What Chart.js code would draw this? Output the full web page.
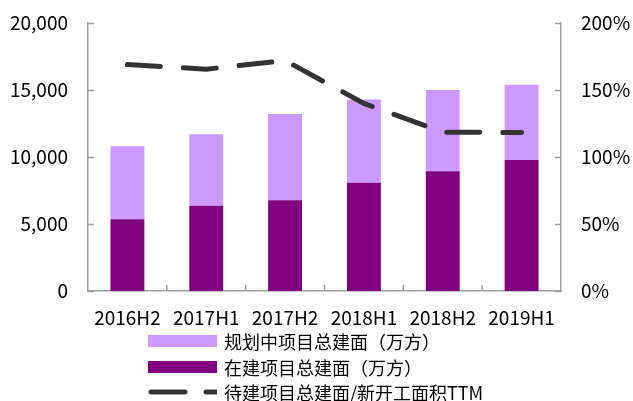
<!DOCTYPE html>
<html>
<head>
<meta charset="utf-8">
<script src="https://cdn.jsdelivr.net/npm/chart.js@4.4.0/dist/chart.umd.min.js"></script>
<style>
  body { margin: 0; background: #fff; }
  #wrap { position: relative; width: 633px; height: 401px; font-family: "Noto Sans CJK SC", sans-serif; }
  #legend { position: absolute; left: 148px; top: 329px; }
  .item { position: absolute; left: 0; height: 24px; white-space: nowrap; font-size: 18px; line-height: 24px; color: #000; }
  .item .sw { position: absolute; left: 0; top: 6px; width: 69px; height: 12px; }
  .item span { position: absolute; left: 76px; top: 0; }
</style>
</head>
<body>
<div id="wrap">
  <canvas id="chart" width="633" height="401"></canvas>
  <div id="legend"></div>
</div>
<script>
// Data
const periods = ["2016H2", "2017H1", "2017H2", "2018H1", "2018H2", "2019H1"];
const underConstruction = [5350, 6370, 6770, 8080, 8930, 9780]; // 在建项目总建面（万方）
const planned = [5450, 5330, 6430, 6220, 6070, 5620]; // 规划中项目总建面（万方）
const pendingRatio = [169, 165.5, 172, 140, 118.5, 118.3]; // 待建/新开工面积TTM (%)
const leftTicks = [0, 5000, 10000, 15000, 20000];

const seriesNames = ["规划中项目总建面（万方）", "在建项目总建面（万方）", "待建项目总建面/新开工面积TTM"];
const lightPurple = "#cc99ff";
const darkPurple = "#800080";
const lineColor = "#333333";
const axisColor = "#a0a0a0";

// inward tick marks, like the original
const innerTicks = {
  id: "innerTicks",
  afterDatasetsDraw(chart) {
    const ctx = chart.ctx;
    const area = chart.chartArea;
    const x = chart.scales.x, y = chart.scales.y, y1 = chart.scales.y1;
    ctx.save();
    ctx.strokeStyle = axisColor;
    ctx.lineWidth = 1.5;
    ctx.beginPath();
    y.ticks.forEach((t) => {
      const py = Math.round(y.getPixelForValue(t.value)) + 0.5;
      ctx.moveTo(area.left, py);
      ctx.lineTo(area.left + 6, py);
    });
    y1.ticks.forEach((t) => {
      const py = Math.round(y1.getPixelForValue(t.value)) + 0.5;
      ctx.moveTo(area.right - 6, py);
      ctx.lineTo(area.right, py);
    });
    for (let i = 1; i < periods.length; i++) {
      const px = (x.getPixelForValue(i - 1) + x.getPixelForValue(i)) / 2;
      ctx.moveTo(px, area.bottom);
      ctx.lineTo(px, area.bottom - 6);
    }
    ctx.stroke();
    ctx.restore();
  },
};

const font = { family: '"Noto Sans CJK SC", sans-serif', size: 19 };

// fixed axis sizes so the plot area lands where the original has it
function fixWidth(w) {
  return (s) => {
    s.width = w;
    s.paddingTop = 0;
    s.paddingBottom = 0;
  };
}

new Chart(document.getElementById("chart").getContext("2d"), {
  type: "bar",
  data: {
    labels: periods,
    datasets: [
      {
        type: "line",
        label: seriesNames[2],
        data: pendingRatio,
        yAxisID: "y1",
        borderColor: lineColor,
        borderWidth: 5,
        borderDash: [33, 23],
        borderCapStyle: "round",
        pointRadius: 0,
        tension: 0,
        order: 0,
      },
      {
        label: seriesNames[1],
        data: underConstruction,
        backgroundColor: darkPurple,
        stack: "a",
        order: 1,
      },
      {
        label: seriesNames[0],
        data: planned,
        backgroundColor: lightPurple,
        stack: "a",
        order: 1,
      },
    ],
  },
  plugins: [innerTicks],
  options: {
    responsive: false,
    animation: false,
    datasets: { bar: { categoryPercentage: 1, barPercentage: 0.43 } },
    layout: { padding: { top: 23, left: 0, right: 0, bottom: 0 } },
    plugins: { legend: { display: false }, tooltip: { enabled: false } },
    scales: {
      x: {
        stacked: true,
        grid: { display: false, drawTicks: false },
        border: { color: axisColor, width: 1.5 },
        ticks: { color: "#000", font: font, padding: 15 },
        afterFit: (s) => { s.height = 110; s.paddingLeft = 0; s.paddingRight = 0; },
      },
      y: {
        stacked: true,
        min: 0,
        max: 20000,
        afterBuildTicks: (s) => { s.ticks = leftTicks.map((v) => ({ value: v })); },
        grid: { display: false, drawTicks: false },
        border: { color: axisColor, width: 1.5 },
        ticks: {
          color: "#000",
          font: font,
          padding: 20,
          callback: (v) => v.toLocaleString("en-US"),
        },
        afterFit: fixWidth(88),
      },
      y1: {
        position: "right",
        min: 0,
        max: 200,
        grid: { display: false, drawTicks: false },
        border: { color: axisColor, width: 1.5 },
        ticks: { color: "#000", font: font, padding: 20, stepSize: 50, callback: (v) => v + "%" },
        afterFit: fixWidth(72),
      },
    },
  },
});

// legend below the axis, one row per series
const legend = document.getElementById("legend");
const rows = [
  { name: seriesNames[0], kind: "box", color: lightPurple, top: 0 },
  { name: seriesNames[1], kind: "box", color: darkPurple, top: 26 },
  { name: seriesNames[2], kind: "line", color: lineColor, top: 51 },
];
rows.forEach((r) => {
  const item = document.createElement("div");
  item.className = "item";
  item.style.top = r.top + "px";
  let sw;
  if (r.kind === "box") {
    sw = '<div class="sw" style="background:' + r.color + '"></div>';
  } else {
    sw = '<svg class="sw" style="top:6px" width="72" height="12"><line x1="3" y1="6" x2="69" y2="6" stroke="' + r.color +
      '" stroke-width="5" stroke-linecap="round" stroke-dasharray="34 21"/></svg>';
  }
  item.innerHTML = sw + "<span>" + r.name + "</span>";
  legend.appendChild(item);
});
</script>
</body>
</html>
